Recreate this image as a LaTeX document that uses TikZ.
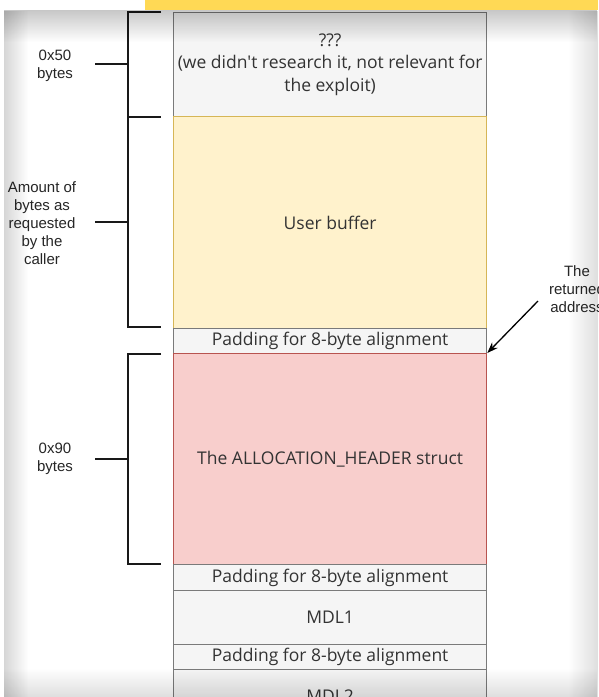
\documentclass[tikz,border=0pt]{standalone}
\usepackage{fontspec}
\newfontfamily\boxfont{Open Sans}
\newfontfamily\lblfont{Liberation Sans}
\usetikzlibrary{arrows.meta,fadings}
\definecolor{gfill}{HTML}{F5F5F5}
\definecolor{gline}{HTML}{7A7A7A}
\definecolor{yfill}{HTML}{FFF2CC}
\definecolor{yline}{HTML}{D6B656}
\definecolor{rfill}{HTML}{F8CECC}
\definecolor{rline}{HTML}{B85450}
\definecolor{band}{HTML}{FFD955}
\definecolor{txt}{HTML}{333333}
\tikzset{
  membox/.style={draw=gline, fill=gfill, line width=1.3pt, anchor=north west,
    minimum width=313pt, inner sep=0pt, align=center, text=txt,
    font=\boxfont\fontsize{17.5}{22.5}\selectfont},
  ybox/.style={membox, draw=yline, fill=yfill},
  rbox/.style={membox, draw=rline, fill=rfill},
  bracketline/.style={line width=2.6pt, black!90},
  sidelabel/.style={align=center, text=black!85, inner sep=0pt,
    font=\lblfont\fontsize{15}{18}\selectfont},
  pointer/.style={line width=1.3pt, -{Stealth[length=11pt,width=8pt]}}
}
\begin{document}
\begin{tikzpicture}[x=1pt,y=-1pt]
\useasboundingbox (0,0) rectangle (598,697);
\begin{scope}
\clip (0,0) rectangle (598,697);
\fill[white] (0,0) rectangle (598,697);
\fill[band] (145,0) rectangle (598,10);

% memory blocks
\node[membox, minimum height=104pt] (unk) at (173,12)
  {???\\(we didn't research it, not relevant for\\the exploit)};
\node[ybox, minimum height=212pt] (ubuf) at (173,116) {User buffer};
\node[membox, minimum height=25pt] (pad1) at (173,328) {Padding for 8-byte alignment};
\node[rbox, minimum height=211pt] (hdr) at (173,353) {The ALLOCATION\_HEADER struct};
\node[membox, minimum height=26pt] (pad2) at (173,564) {Padding for 8-byte alignment};
\node[membox, minimum height=54pt] (mdl1) at (173,590) {MDL1};
\node[membox, minimum height=25pt] (pad3) at (173,644) {Padding for 8-byte alignment};
\node[membox, minimum height=54pt] (mdl2) at (173,669) {MDL2};

% brackets
\coordinate (b1t) at (161,12);
\coordinate (b1b) at (161,117);
\coordinate (b2b) at (161,327);
\coordinate (b3t) at (161,354);
\coordinate (b3b) at (161,564);
\draw[bracketline] (b1t) -- (128,12) -- (128,117) -- (b1b);
\draw[bracketline] (128,117) -- (128,327) -- (b2b);
\draw[bracketline] (b3t) -- (128,354) -- (128,564) -- (b3b);

\node[sidelabel] (l1) at (55,66) {0x50\\bytes};
\node[sidelabel] (l2) at (42,223) {Amount of\\bytes as\\requested\\by the\\caller};
\node[sidelabel] (l3) at (55,459) {0x90\\bytes};
\coordinate (t1) at (95,64);
\coordinate (t2) at (95,222);
\coordinate (t3) at (95,459);
\draw[bracketline] (t1) -- (128,64);
\draw[bracketline] (t2) -- (128,222);
\draw[bracketline] (t3) -- (128,459);

% returned address
\node[sidelabel] (ret) at (577,289) {The\\returned\\address};
\coordinate (arrstart) at (538,301);
\draw[pointer] (arrstart) -- (hdr.north east);

% vignette (inner shadow of the screenshot)
\fill[black, opacity=0.22, path fading=south] (4,10) rectangle (598,42);
\fill[black, opacity=0.16, path fading=east] (4,10) rectangle (28,697);
\fill[black, opacity=0.13, path fading=west] (568,10) rectangle (598,697);
\fill[black, opacity=0.13, path fading=north] (4,668) rectangle (598,697);
\end{scope}
\end{tikzpicture}
\end{document}
